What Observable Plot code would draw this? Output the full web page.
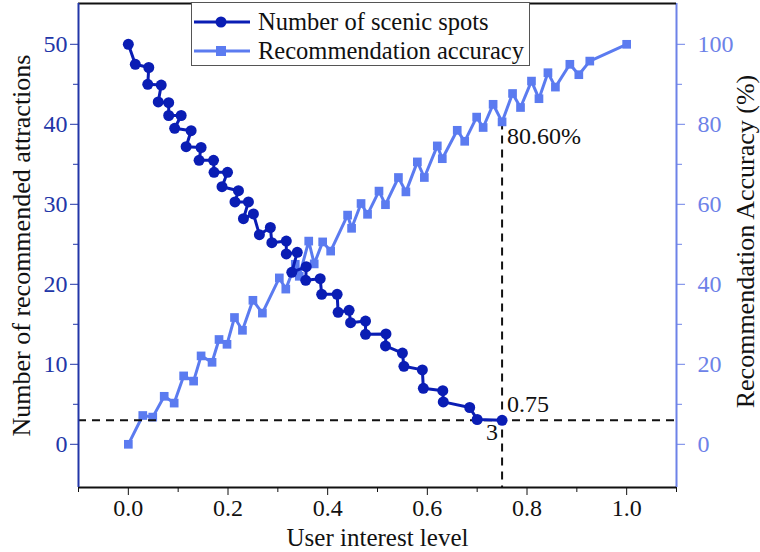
<!DOCTYPE html>
<html><head><meta charset="utf-8">
<script src="https://cdn.jsdelivr.net/npm/d3@7"></script>
<script src="https://cdn.jsdelivr.net/npm/@observablehq/plot@0.6"></script>
<style>
body{margin:0;background:#fff;}
#wrap{position:relative;width:760px;height:552px;font-family:"Liberation Serif","Times New Roman",serif;}
#wrap svg.plot{position:absolute;left:0;top:0;}
#legend{position:absolute;left:191px;top:2px;width:339px;height:64px;border:1.5px solid #555;background:#fff;box-sizing:border-box;}
#legend .row{position:absolute;left:0;height:28px;display:flex;align-items:center;font-size:24.5px;color:#111;white-space:nowrap;}
#legend svg{margin-right:6px;}
</style></head><body><div id="wrap"><div id="legend"></div></div>
<script>
// Series 1: number of recommended scenic spots (left axis)
const spotsX = [0, 0.014, 0.041, 0.039, 0.066, 0.06, 0.081, 0.081, 0.106, 0.093, 0.126, 0.116, 0.146, 0.142, 0.171, 0.172, 0.199, 0.188, 0.221, 0.214, 0.241, 0.231, 0.251, 0.263, 0.285, 0.288, 0.317, 0.317, 0.339, 0.328, 0.357, 0.356, 0.385, 0.388, 0.419, 0.421, 0.443, 0.446, 0.476, 0.476, 0.517, 0.516, 0.55, 0.553, 0.59, 0.592, 0.631, 0.632, 0.685, 0.7, 0.75];
const spotsY = [50, 47.5, 47.1, 45.0, 44.9, 42.8, 42.7, 41.1, 41.1, 39.5, 39.2, 37.2, 37.1, 35.5, 35.5, 34.0, 34.0, 32.2, 31.7, 30.3, 30.3, 28.2, 28.8, 26.2, 27.1, 25.2, 25.4, 23.8, 24.0, 21.5, 22.2, 20.5, 20.7, 18.75, 18.75, 16.5, 16.75, 15.2, 15.4, 13.75, 13.8, 12.3, 11.4, 9.75, 9.3, 7.0, 6.7, 5.3, 4.6, 3.1, 3];
// Series 2: recommendation accuracy in % (right axis)
const accX = [0, 0.029, 0.049, 0.072, 0.092, 0.111, 0.131, 0.146, 0.168, 0.182, 0.198, 0.213, 0.229, 0.25, 0.269, 0.303, 0.316, 0.335, 0.343, 0.362, 0.373, 0.39, 0.406, 0.44, 0.448, 0.467, 0.48, 0.503, 0.516, 0.542, 0.557, 0.58, 0.594, 0.62, 0.63, 0.66, 0.675, 0.699, 0.712, 0.732, 0.75, 0.771, 0.787, 0.809, 0.824, 0.842, 0.857, 0.886, 0.904, 0.926, 1.0];
const accY = [0, 7.2, 6.8, 12, 10.3, 17.1, 15.8, 22.1, 20.5, 26.2, 25, 31.7, 28.5, 36, 32.8, 41.6, 38.8, 45, 42, 50.8, 45.1, 50.6, 48.3, 57.3, 54, 60.2, 57.5, 63.3, 59.9, 66.7, 63.1, 70.6, 66.7, 74.6, 71.4, 78.5, 75.75, 81.8, 79.2, 85, 80.6, 87.7, 84.2, 90.8, 86.4, 92.9, 89.3, 95, 92.4, 95.8, 100];

const xTicks = [0, 0.2, 0.4, 0.6, 0.8, 1.0];
const xMinor = [-0.1, 0.1, 0.3, 0.5, 0.7, 0.9, 1.1];
const leftTicks = [0, 10, 20, 30, 40, 50];
const leftMinor = [5, 15, 25, 35, 45];
const rightTicks = [0, 20, 40, 60, 80, 100];
const rightMinor = [10, 30, 50, 70, 90];

const seriesNames = ["Number of scenic spots", "Recommendation accuracy"];
const xTitle = "User interest level";
const leftTitle = "Number of recommended attractions";
const rightTitle = "Recommendation Accuracy (%)";
const markX = 0.75, markSpots = 3, markAcc = 80.6;

const dark = "#0a1db4", light = "#5b7bf0";
const darkAxis = "#2236a8", lightAxis = "#6d82e8";

const spots = spotsX.map((x, i) => ({x, y: spotsY[i]}));
const acc = accX.map((x, i) => ({x, y: accY[i]}));

const common = {
  width: 760, height: 552,
  marginLeft: 78, marginRight: 84, marginTop: 3, marginBottom: 65,
  x: {domain: [-0.1, 1.1], label: null, axis: null},
  style: {fontFamily: "Liberation Serif, Times New Roman, serif", fontSize: "24px", background: "transparent", overflow: "visible"}
};
const dash = "8,6";

// Right-axis plot (accuracy)
const plotB = Plot.plot({
  ...common,
  y: {domain: [-10.8, 110.2], label: null, axis: null},
  marks: [
    Plot.ruleX([markX], {y1: markAcc, y2: -10.8, stroke: "#111", strokeWidth: 2, strokeDasharray: dash}),
    Plot.line(acc, {x: "x", y: "y", stroke: light, strokeWidth: 3}),
    Plot.dot(acc, {x: "x", y: "y", symbol: "square", r: 4.9, fill: light, stroke: "none"}),
    Plot.axisY(rightTicks, {anchor: "right", tickSize: 8, tickPadding: 13, color: lightAxis, fontSize: 24, label: null}),
    Plot.axisY(rightMinor, {anchor: "right", tickSize: 5, tickFormat: () => "", color: lightAxis, label: null}),
    Plot.ruleX([1.1], {stroke: lightAxis, strokeWidth: 2}),
    Plot.text([`${markAcc.toFixed(2)}%`], {x: markX, y: markAcc, textAnchor: "start", dx: 5, dy: 14, fontSize: 24, fill: "#111"}),
    Plot.text([rightTitle], {frameAnchor: "right", textAnchor: "middle", rotate: -90, dx: 69, dy: -4, fontSize: 26, fill: "#111"})
  ]
});

// Left-axis plot (scenic spots)
const plotA = Plot.plot({
  ...common,
  y: {domain: [-5.4, 55.1], label: null, axis: null},
  marks: [
    Plot.ruleY([markSpots], {stroke: "#111", strokeWidth: 2, strokeDasharray: dash}),
    Plot.line(spots, {x: "x", y: "y", stroke: dark, strokeWidth: 3}),
    Plot.dot(spots, {x: "x", y: "y", r: 5.5, fill: dark, stroke: "none"}),
    Plot.ruleY([55.1], {stroke: "#111", strokeWidth: 2}),
    Plot.ruleY([-5.4], {stroke: "#111", strokeWidth: 2}),
    Plot.ruleX([-0.1], {stroke: darkAxis, strokeWidth: 2}),
    Plot.axisY(leftTicks, {anchor: "left", tickSize: 8, tickPadding: 3, color: darkAxis, fontSize: 24, label: null}),
    Plot.axisY(leftMinor, {anchor: "left", tickSize: 5, tickFormat: () => "", color: darkAxis, label: null}),
    Plot.axisX(xTicks, {tickSize: 8, tickFormat: () => "", color: "#111", label: null}),
    Plot.axisX(xMinor, {tickSize: 5, tickFormat: () => "", color: "#111", label: null}),
    Plot.text(xTicks, {x: d => d, text: d => d3.format(".1f")(d), frameAnchor: "bottom", lineAnchor: "middle", dy: 21, fontSize: 24, fill: "#111"}),
    Plot.text([markX.toFixed(2)], {x: markX, y: markSpots, textAnchor: "start", dx: 5, dy: -16, fontSize: 24, fill: "#111"}),
    Plot.text([String(markSpots)], {x: markX, y: markSpots, textAnchor: "end", dx: -4, dy: 12, fontSize: 24, fill: "#111"}),
    Plot.text([leftTitle], {frameAnchor: "left", textAnchor: "middle", rotate: -90, dx: -57, fontSize: 26, fill: "#111"}),
    Plot.text([xTitle], {frameAnchor: "bottom", lineAnchor: "middle", dy: 50, fontSize: 25, fill: "#111"})
  ]
});

const wrap = document.getElementById("wrap");
plotB.classList.add("plot"); plotA.classList.add("plot");
wrap.insertBefore(plotB, wrap.firstChild);
wrap.insertBefore(plotA, document.getElementById("legend"));

// Legend
const legend = document.getElementById("legend");
const legendItems = [
  {name: seriesNames[0], color: dark, symbol: "circle"},
  {name: seriesNames[1], color: light, symbol: "square"}
];
legendItems.forEach((it, i) => {
  const row = document.createElement("div");
  row.className = "row";
  row.style.top = (i === 0 ? 5 : 34) + "px";
  const mk = it.symbol === "circle"
    ? `<circle cx="29" cy="14" r="5.5" fill="${it.color}"/>`
    : `<rect x="24" y="9" width="10" height="10" fill="${it.color}"/>`;
  row.innerHTML = `<svg width="60" height="28"><line x1="2" x2="58" y1="14" y2="14" stroke="${it.color}" stroke-width="3"/>${mk}</svg><span>${it.name}</span>`;
  legend.appendChild(row);
});
</script>
</body></html>
